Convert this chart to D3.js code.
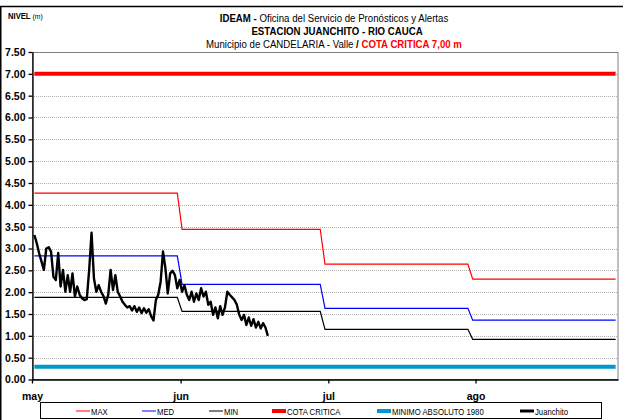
<!DOCTYPE html>
<html>
<head>
<meta charset="utf-8">
<script src="https://cdn.jsdelivr.net/npm/d3@7"></script>
<style>
  body { margin: 0; background: #fff; }
  svg { display: block; }
</style>
</head>
<body>
<div id="chart"></div>
<script>
// months on the x axis (day 0 = 1 May)
const months = ["may", "jun", "jul", "ago"];
const monthDays = [31, 30, 31, 31];
const tickDays = [-0.5, 30.7, 61.7, 92.6];

// monthly reference levels (m)
const maxLevel = [4.27, 3.44, 2.64, 2.30];
const medLevel = [2.83, 2.18, 1.63, 1.36];
const minLevel = [1.88, 1.56, 1.15, 0.92];
const cotaCritica = 7.00;
const minimoAbsoluto = 0.29;

// Juanchito readings, two per day starting 1 May
const juanchito = [
  3.31, 3.12, 2.89, 2.70, 2.51, 3.00, 3.03, 2.93, 2.35, 2.28,
  2.90, 2.13, 2.51, 2.01, 2.39, 2.01, 2.43, 1.91, 2.13, 1.94,
  1.86, 1.82, 1.84, 2.51, 3.36, 2.32, 2.01, 2.16, 2.01, 1.91,
  1.74, 1.94, 2.51, 2.05, 2.39, 2.01, 1.90, 1.78, 1.71, 1.65,
  1.68, 1.58, 1.68, 1.55, 1.65, 1.52, 1.63, 1.53, 1.61, 1.45,
  1.35, 1.82, 1.94, 2.24, 2.93, 2.55, 1.97, 2.43, 2.49, 2.39,
  2.09, 2.28, 2.01, 2.16, 1.94, 1.82, 2.01, 1.78, 1.97, 1.82,
  2.09, 1.90, 2.01, 1.71, 1.78, 1.48, 1.65, 1.40, 1.68, 1.48,
  1.65, 2.01, 1.94, 1.88, 1.82, 1.71, 1.48, 1.36, 1.48, 1.25,
  1.42, 1.23, 1.38, 1.19, 1.32, 1.17, 1.29, 1.19, 1.00
];

const yTicks = d3.range(0, 7.51, 0.5);

const legendItems = [
  { name: "MAX", color: "#ff0000", w: 1 },
  { name: "MED", color: "#0000ff", w: 1 },
  { name: "MIN", color: "#000000", w: 1 },
  { name: "COTA CRITICA", color: "#ff0000", w: 4 },
  { name: "MINIMO ABSOLUTO 1980", color: "#0099cc", w: 4 },
  { name: "Juanchito", color: "#000000", w: 3 }
];

const width = 623, height = 420;
const sans = "'Liberation Sans', Arial, sans-serif";

const svg = d3.select("#chart").append("svg")
  .attr("width", width)
  .attr("height", height);

// narrow text: plain sans squeezed horizontally
function narrowText(px, py, sx, anchor) {
  return svg.append("g")
    .attr("transform", `translate(${px},${py}) scale(${sx},1)`)
    .append("text")
    .attr("text-anchor", anchor || "start")
    .attr("font-family", sans);
}

// outer frame
svg.append("rect")
  .attr("x", 0.75).attr("y", 6.5)
  .attr("width", 700).attr("height", 500)
  .attr("fill", "none").attr("stroke", "#000").attr("stroke-width", 1.5);

const x = d3.scaleLinear().domain([-0.5, 122.5]).range([32, 618]);
const y = d3.scaleLinear().domain([0, 7.5]).range([379.5, 52]);

// grid
svg.append("g")
  .selectAll("line")
  .data(yTicks.slice(1))
  .enter().append("line")
  .attr("x1", 32).attr("x2", 618)
  .attr("y1", d => Math.round(y(d)) + 0.5)
  .attr("y2", d => Math.round(y(d)) + 0.5)
  .attr("stroke", "#b0b0b0")
  .attr("stroke-dasharray", "1,1");

// plot area border
svg.append("rect")
  .attr("x", 32.5).attr("y", 52.5)
  .attr("width", 618 - 32.5).attr("height", 379.5 - 52.5)
  .attr("fill", "none").attr("stroke", "#808080");

// monthly step series
function stepPoints(levels) {
  const pts = [];
  let start = 0;
  levels.forEach((v, i) => {
    pts.push([start, v]);
    pts.push([start + monthDays[i] - 1, v]);
    start += monthDays[i];
  });
  return pts;
}

const line = d3.line().x(d => x(d[0])).y(d => y(d[1]));
const lastDay = d3.sum(monthDays) - 1;

// horizontal references
svg.append("path")
  .attr("d", line([[0, cotaCritica], [lastDay, cotaCritica]]))
  .attr("fill", "none").attr("stroke", "#ff0000").attr("stroke-width", 4);
svg.append("path")
  .attr("d", line([[0, minimoAbsoluto], [lastDay, minimoAbsoluto]]))
  .attr("fill", "none").attr("stroke", "#0099cc").attr("stroke-width", 4);

[[maxLevel, "#ff0000"], [medLevel, "#0000ff"], [minLevel, "#000000"]].forEach(([lv, c]) => {
  svg.append("path")
    .attr("d", line(stepPoints(lv)))
    .attr("fill", "none").attr("stroke", c).attr("stroke-width", 1.2);
});

// Juanchito series
svg.append("path")
  .attr("d", line(juanchito.map((v, i) => [i / 2, v])))
  .attr("fill", "none").attr("stroke", "#000")
  .attr("stroke-width", 2.4).attr("stroke-linejoin", "round");

// axes
const yAxis = svg.append("g")
  .attr("transform", "translate(32.5,0)")
  .call(d3.axisLeft(y).tickValues(yTicks).tickFormat(d3.format(".2f")).tickSize(4).tickSizeOuter(0).tickPadding(3));
const xAxis = svg.append("g")
  .attr("transform", "translate(0,379.5)")
  .call(d3.axisBottom(x).tickValues(tickDays).tickFormat((d, i) => months[i]).tickSize(4).tickSizeOuter(0).tickPadding(9));

[yAxis, xAxis].forEach(g => {
  g.selectAll("path, line").attr("stroke", "#000").attr("stroke-width", 1.3);
  g.selectAll("text")
    .attr("font-family", sans).attr("font-size", 10.5)
    .attr("font-weight", "bold").attr("fill", "#000");
});

// titles
const nivel = narrowText(8, 19, 0.85).attr("font-size", 9);
nivel.append("tspan").attr("font-weight", "bold").text("NIVEL ");
nivel.append("tspan").attr("font-size", 8).text("(m)");

const t1 = narrowText(334, 22, 0.84, "middle").attr("font-size", 11.5);
t1.append("tspan").attr("font-weight", "bold").text("IDEAM - ");
t1.append("tspan").text("Oficina del Servicio de Pronósticos y Alertas");

narrowText(337, 35, 0.84, "middle").attr("font-size", 11.5)
  .attr("font-weight", "bold").text("ESTACION JUANCHITO - RIO CAUCA");

const t3 = narrowText(334, 48, 0.84, "middle").attr("font-size", 11.5);
t3.append("tspan").text("Municipio de CANDELARIA - Valle  ");
t3.append("tspan").attr("font-weight", "bold").text("/  ");
t3.append("tspan").attr("font-weight", "bold").attr("fill", "#ff0000").text("COTA CRITICA 7,00 m");

// legend
svg.append("rect")
  .attr("x", 40.5).attr("y", 402.5)
  .attr("width", 561).attr("height", 16)
  .attr("fill", "#fff").attr("stroke", "#000");

const legendX = [76, 142, 209, 272, 377, 520];
const leg = svg.append("g").selectAll("g")
  .data(legendItems)
  .enter().append("g")
  .attr("transform", (d, i) => `translate(${legendX[i]},411)`);
leg.append("line")
  .attr("x1", 0).attr("x2", 14)
  .attr("stroke", d => d.color).attr("stroke-width", d => d.w);
leg.append("g")
  .attr("transform", "translate(15,3.5) scale(0.86,1)")
  .append("text")
  .attr("font-family", sans).attr("font-size", 9)
  .text(d => d.name);
</script>
</body>
</html>
